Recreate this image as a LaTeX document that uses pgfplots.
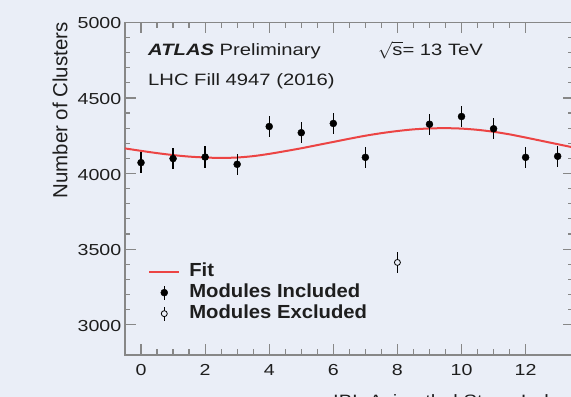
\documentclass[border=0pt]{standalone}
\usepackage{fontspec}
\setmainfont{Liberation Sans}
\newfontfamily\tfont{Liberation Sans}[FakeStretch=1.23]
\newfontfamily\lfont{Liberation Sans}[FakeStretch=1.07]
\usepackage{pgfplots}
\pgfplotsset{compat=1.18}
\definecolor{bgcol}{RGB}{234,238,247}
\definecolor{axcol}{RGB}{135,135,135}
\definecolor{txtcol}{RGB}{30,30,30}
\definecolor{fitred}{RGB}{236,68,68}
\pgfplotsset{
 lineleg/.style={legend image code/.code={\draw[##1] (0bp,0bp) -- (30bp,0bp);}},
 markleg/.style={legend image code/.code={\draw[black, line width=#1] (15bp,-7bp) -- (15bp,7bp);
    \draw[mark repeat=2,mark phase=2,##1] plot coordinates {(0bp,0bp)(15bp,0bp)(30bp,0bp)};}},
}
\pgfplotstableread{
x y e
0 4072 70
1 4099 70
2 4109 70
3 4061 70
4 4311 70
5 4270 70
6 4331 70
7 4107 70
9 4326 70
10 4377 70
11 4296 70
12 4107 70
13 4114 70
}\incl
\pgfplotstableread{
x y e
8 3412 68
}\excl
\begin{document}
\begin{tikzpicture}
\fill[bgcol] (-125bp,-42bp) rectangle (446bp,355bp);
\begin{axis}[
 scale only axis, width=448.7bp, height=332.7bp,
 xmin=-0.5, xmax=13.5, ymin=2800, ymax=5000,
 axis line style={axcol, line width=1.2bp},
 tick style={axcol, line width=1.2bp},
 tick align=inside, tick pos=both,
 major tick length=11bp, minor tick length=5.5bp,
 xtick={0,2,...,12}, minor x tick num=3,
 ytick={3000,3500,...,5000}, minor y tick num=4,
 scaled y ticks=false,
 /pgf/number format/assume math mode=true,
 /pgf/number format/set thousands separator={},
 tick label style={font=\tfont\fontsize{16}{19}\selectfont, text=txtcol},
 xticklabel style={anchor=base, inner sep=0pt, yshift=-20bp},
 yticklabel style={anchor=east, inner sep=0pt, xshift=-3.5bp, yshift=-1bp},
 clip=false,
 legend cell align=left,
 legend style={at={(axis cs:0.22,3412)}, anchor=north west, draw=none, fill=none,
   inner sep=0pt, row sep=3bp, column sep=9bp,
   nodes={inner sep=0pt, text height=14bp, text depth=4bp,
     font=\lfont\bfseries\fontsize{19}{22}\selectfont, text=txtcol}},
]
\addplot[fitred, line width=2bp, smooth, no markers, lineleg] coordinates {
(-0.5,4166) (0,4150) (0.5,4135) (1,4122) (1.5,4112) (2,4106) (2.5,4103)
(3,4106) (3.5,4115) (4,4130) (4.5,4148) (5,4167) (5.5,4188) (6,4209)
(6.5,4230) (7,4250) (7.5,4267) (8,4281) (8.5,4292) (9,4298) (9.5,4300)
(10,4297) (10.5,4289) (11,4276) (11.5,4259) (12,4238) (12.5,4216)
(13,4194) (13.5,4172)};
\addlegendentry{Fit}
\addplot[only marks, mark=*, mark size=3.5bp, black, mark options={fill=black},
  markleg=1.3bp,
  error bars/.cd, y dir=both, y explicit, error mark=none,
  error bar style={line width=1.3bp, black}]
  table[x=x, y=y, y error=e] {\incl};
\addlegendentry{Modules Included}
\addplot[only marks, mark=*, mark size=3bp, black, mark options={fill=bgcol, draw=black, line width=0.8bp},
  markleg=1.0bp,
  error bars/.cd, y dir=both, y explicit, error mark=none,
  error bar style={line width=1.0bp, black}]
  table[x=x, y=y, y error=e] {\excl};
\addlegendentry{Modules Excluded}
\node[anchor=base west, inner sep=0pt, text=txtcol, font=\tfont\fontsize{16.5}{19}\selectfont]
  at (axis cs:0.218,4781.6) {\textbf{\textit{ATLAS}} Preliminary};
\node[anchor=base west, inner sep=0pt, text=txtcol, font=\tfont\fontsize{16.5}{19}\selectfont]
  at (axis cs:0.218,4584) {LHC Fill 4947 (2016)};
\node[anchor=base west, inner sep=0pt, text=txtcol, font=\tfont\fontsize{16.5}{19}\selectfont]
  at (axis cs:7.39,4781.6) {$\sqrt{\mbox{s}}$= 13 TeV};
\node[rotate=90, anchor=base east, inner sep=0pt, text=txtcol, font=\fontsize{20.5}{24}\selectfont]
  at ([xshift=-57.5bp]rel axis cs:0,1) {Number of Clusters};
\node[anchor=base west, inner sep=0pt, text=txtcol, font=\tfont\fontsize{16.5}{19}\selectfont]
  at ([yshift=-51bp]axis cs:5.99,2800) {IBL Azimuthal Stave Index};
\end{axis}
\pgfresetboundingbox
\useasboundingbox (-125bp,-42bp) rectangle (446bp,355bp);
\end{tikzpicture}
\end{document}
